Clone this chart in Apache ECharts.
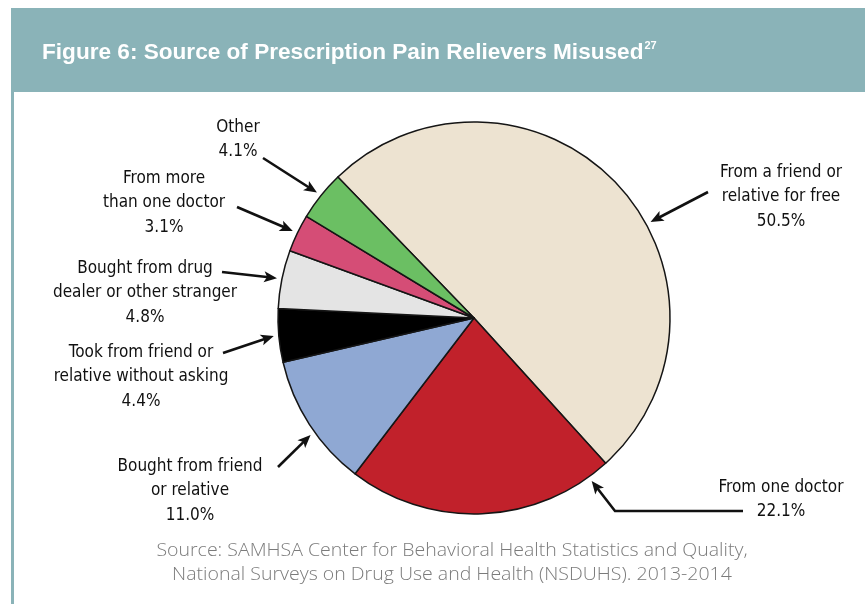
<!DOCTYPE html>
<html>
<head>
<meta charset="utf-8">
<script src="https://cdn.jsdelivr.net/npm/echarts@6/dist/echarts.min.js"></script>
<style>
  html, body { margin: 0; padding: 0; background: #ffffff; }
  #chart { width: 865px; height: 604px; }
</style>
</head>
<body>
<div id="chart"></div>
<script>
// Sources of misused prescription pain relievers (percent of users)
const categories = [
  'From a friend or\nrelative for free',
  'From one doctor',
  'Bought from friend\nor relative',
  'Took from friend or\nrelative without asking',
  'Bought from drug\ndealer or other stranger',
  'From more\nthan one doctor',
  'Other'
];
const percents = [50.5, 22.1, 11.0, 4.4, 4.8, 3.1, 4.1];
const sliceColors = ['#ede3d1', '#c1212b', '#8fa8d3', '#000000', '#e4e4e4', '#d54d76', '#6bbf63'];

const titleText = 'Figure 6: Source of Prescription Pain Relievers Misused';
const titleNote = '27';
const sourceLines = [
  'Source: SAMHSA Center for Behavioral Health Statistics and Quality,',
  'National Surveys on Drug Use and Health (NSDUHS). 2013-2014'
];

// Label block placement (centre x, top y) for each slice, in slice order
const labelSpots = [
  [781, 160], [781, 475], [190, 454], [141, 340], [145, 256], [164, 166], [238, 115]
];
// Callout arrows: where the shaft starts, plus how far along the slice the head points
const arrowTails = [
  [[708, 192]],
  [[743, 511], [615, 511]],
  [[278, 467]],
  [[223, 353]],
  [[222, 272]],
  [[237, 207]],
  [[263, 158]]
];
const arrowAlong = [0.58, 0.08, 0.43, 0.5, 0.5, 0.5, 0.5];

const labelFont = '"Liberation Sans Narrow", "DejaVu Sans Condensed", "Liberation Sans", sans-serif';
const titleFont = '"Liberation Sans", Arial, sans-serif';
const teal = '#8ab3b8';

const chart = echarts.init(document.getElementById('chart'), null, { renderer: 'canvas' });

const frame = [
  { type: 'rect', left: 11, top: 8, shape: { width: 854, height: 84 }, style: { fill: teal }, silent: true },
  { type: 'rect', left: 11, top: 92, shape: { width: 3, height: 512 }, style: { fill: teal }, silent: true },
  {
    // source note, widened slightly to the set width of the original typeface
    type: 'text', x: 452, y: 539, scaleX: 1.115, originX: 0, originY: 0, silent: true,
    style: {
      text: sourceLines.join('\n'), fill: '#7b7b7b', align: 'center',
      font: '300 17.5px "Open Sans", Lato, sans-serif', lineHeight: 24
    }
  }
];

chart.setOption({
  animation: false,
  title: {
    left: 42, top: 40, padding: 0,
    text: '{t|' + titleText + '}{s|' + titleNote + '}',
    textStyle: {
      rich: {
        t: { color: '#ffffff', fontSize: 22.6, fontWeight: 'bold', fontFamily: titleFont, lineHeight: 26 },
        s: { color: '#ffffff', fontSize: 11, fontWeight: 'bold', fontFamily: titleFont, verticalAlign: 'top', lineHeight: 26, padding: [0, 0, 9, 1] }
      }
    }
  },
  graphic: frame,
  series: [{
    type: 'pie',
    center: [474, 318],
    radius: 196,
    startAngle: 134,
    clockwise: true,
    silent: true,
    itemStyle: { borderColor: '#151515', borderWidth: 1.5 },
    data: categories.map((name, i) => ({ name: name, value: percents[i], itemStyle: { color: sliceColors[i] } })),
    label: {
      show: true,
      position: 'outside',
      formatter: p => p.name + '\n' + p.value.toFixed(1) + '%',
      color: '#111111',
      fontFamily: labelFont,
      fontSize: 17,
      lineHeight: 24.5,
      align: 'center'
    },
    labelLine: { show: false },
    labelLayout: p => ({
      x: labelSpots[p.dataIndex][0],
      y: labelSpots[p.dataIndex][1],
      align: 'center',
      verticalAlign: 'top'
    })
  }]
});

// Arrows pointing from each label to its slice, aimed using the pie's own layout
const pieData = chart.getModel().getSeriesByIndex(0).getData();
const arrows = [];
pieData.each(i => {
  const lay = pieData.getItemLayout(i);
  const a = lay.startAngle + arrowAlong[i] * (lay.endAngle - lay.startAngle);
  const tip = [lay.cx + (lay.r + 5) * Math.cos(a), lay.cy + (lay.r + 5) * Math.sin(a)];
  const pts = arrowTails[i].slice();
  const prev = pts[pts.length - 1];
  const dx = tip[0] - prev[0], dy = tip[1] - prev[1];
  const len = Math.sqrt(dx * dx + dy * dy);
  const ux = dx / len, uy = dy / len;
  const headLen = 13, headHalf = 5.5;
  const base = [tip[0] - ux * headLen, tip[1] - uy * headLen];
  arrows.push({
    type: 'polyline', silent: true, z: 10,
    shape: { points: pts.concat([[tip[0] - ux * 8, tip[1] - uy * 8]]) },
    style: { stroke: '#111111', lineWidth: 2.6, fill: null }
  });
  arrows.push({
    type: 'polygon', silent: true, z: 10,
    shape: { points: [tip, [base[0] - uy * headHalf, base[1] + ux * headHalf], [base[0] + ux * 3, base[1] + uy * 3], [base[0] + uy * headHalf, base[1] - ux * headHalf]] },
    style: { fill: '#111111' }
  });
});
chart.setOption({ graphic: frame.concat(arrows) });
</script>
</body>
</html>
